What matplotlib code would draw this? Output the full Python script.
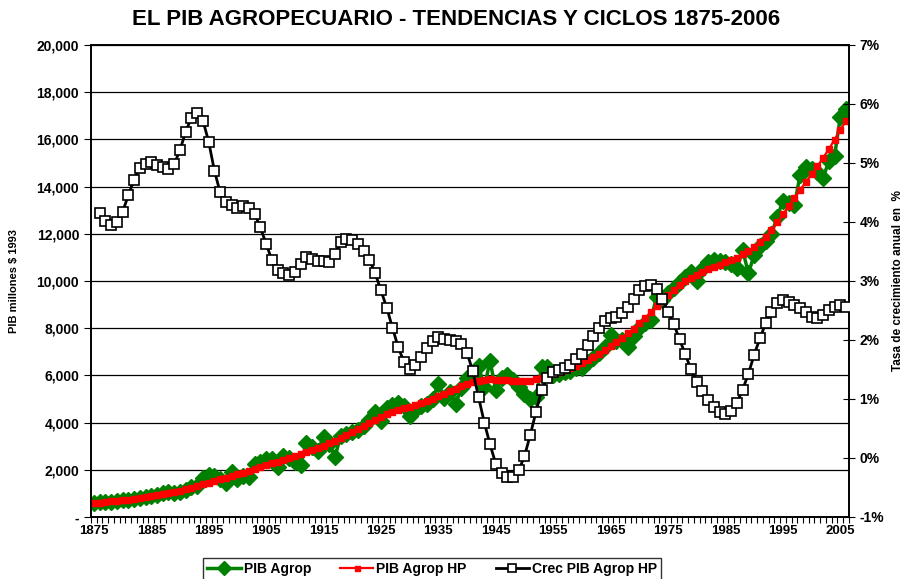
import matplotlib
matplotlib.use('Agg')
import matplotlib.pyplot as plt
from matplotlib.ticker import FuncFormatter, MultipleLocator

plt.rcParams['font.family'] = ['Liberation Sans', 'DejaVu Sans']
plt.rcParams['font.weight'] = 'bold'

years = list(range(1875, 2007))

# PIB agropecuario (millones $ 1993)
pib_agrop = [
    600, 620, 640, 650, 690, 710, 740, 770, 820, 850,
    900, 950, 1000, 1050, 1000, 1050, 1150, 1250, 1300, 1650,
    1800, 1750, 1600, 1450, 1900, 1600, 1750, 1700, 2250, 2350,
    2450, 2450, 2100, 2600, 2500, 2350, 2200, 3150, 2950, 2800,
    3400, 3100, 2550, 3450, 3500, 3600, 3700, 3850, 4100, 4450,
    4050, 4600, 4750, 4850, 4700, 4300, 4550, 4700, 4800, 5000,
    5650, 5050, 5300, 4800, 5450, 5900, 6000, 6400, 5500, 6600,
    5400, 5900, 6000, 5800, 5500, 5200, 5000, 5100, 6350, 6350,
    6000, 6050, 6150, 6200, 6300, 6300, 6550, 6750, 6950, 7200,
    7700, 7450, 7500, 7200, 7650, 8000, 8200, 8350, 9330, 9200,
    9480, 9700, 9950, 10150, 10390, 10000, 10500, 10800, 10890, 10850,
    10800, 10700, 10540, 11300, 10330, 11100, 11500, 11700, 12000, 12700,
    13400, 13300, 13200, 14500, 14850, 14750, 14600, 14350, 15100, 15300,
    16950, 17270,
]

# Tendencia Hodrick-Prescott
pib_hp = [
    590, 612, 635, 657, 680, 706, 735, 767, 801, 838,
    878, 918, 960, 1005, 1053, 1105, 1165, 1230, 1302, 1377,
    1450, 1521, 1590, 1658, 1729, 1802, 1880, 1958, 2040, 2120,
    2197, 2271, 2343, 2416, 2491, 2570, 2653, 2744, 2836, 2931,
    3029, 3129, 3237, 3356, 3480, 3609, 3740, 3871, 4001, 4126,
    4244, 4352, 4448, 4531, 4605, 4675, 4749, 4830, 4920, 5018,
    5120, 5224, 5328, 5433, 5538, 5637, 5720, 5779, 5814, 5827,
    5821, 5807, 5788, 5770, 5758, 5760, 5782, 5827, 5880, 5960,
    6040, 6125, 6210, 6305, 6405, 6515, 6635, 6770, 6915, 7070,
    7235, 7405, 7585, 7775, 7980, 8200, 8435, 8680, 8925, 9170,
    9400, 9615, 9810, 9985, 10135, 10270, 10390, 10500, 10600, 10695,
    10790, 10885, 10995, 11130, 11270, 11440, 11640, 11870, 12160, 12480,
    12820, 13170, 13510, 13860, 14190, 14530, 14860, 15210, 15590, 15990,
    16400, 16790,
]

# Crecimiento anual de la tendencia HP (%), desde 1876
crec_years = list(range(1876, 2007))
crec_hp = [
    4.16, 4.02, 3.95, 4.00, 4.17, 4.45, 4.72, 4.92, 4.99, 5.01,
    4.96, 4.93, 4.90, 4.98, 5.22, 5.53, 5.77, 5.85, 5.72, 5.36,
    4.87, 4.50, 4.34, 4.28, 4.24, 4.27, 4.23, 4.14, 3.91, 3.63,
    3.36, 3.18, 3.13, 3.10, 3.15, 3.28, 3.41, 3.38, 3.34, 3.34,
    3.32, 3.45, 3.66, 3.71, 3.70, 3.63, 3.51, 3.36, 3.13, 2.84,
    2.55, 2.21, 1.88, 1.63, 1.51, 1.58, 1.71, 1.86, 1.99, 2.05,
    2.02, 2.00, 1.98, 1.94, 1.78, 1.47, 1.03, 0.60, 0.23, -0.10,
    -0.25, -0.32, -0.32, -0.21, 0.03, 0.39, 0.78, 1.16, 1.36, 1.46,
    1.49, 1.52, 1.58, 1.67, 1.77, 1.92, 2.07, 2.20, 2.32, 2.37,
    2.39, 2.46, 2.56, 2.70, 2.84, 2.92, 2.93, 2.86, 2.70, 2.48,
    2.27, 2.01, 1.76, 1.50, 1.29, 1.14, 0.99, 0.87, 0.78, 0.75,
    0.80, 0.94, 1.16, 1.43, 1.75, 2.03, 2.28, 2.48, 2.62, 2.67,
    2.64, 2.60, 2.55, 2.47, 2.39, 2.38, 2.42, 2.50, 2.56, 2.60,
    2.56,
]

fig = plt.figure(figsize=(9.06, 5.79), dpi=100)
ax = fig.add_axes([0.1004, 0.1071, 0.8366, 0.8152])
ax2 = ax.twinx()

green = '#008000'

# gridlines at left-axis ticks
ax.set_axisbelow(True)
ax.yaxis.grid(True, color='black', linewidth=0.9)

ax.plot(years, pib_agrop, color=green, linewidth=2.5, marker='D', markersize=8.5,
        markerfacecolor=green, markeredgecolor=green, label='PIB Agrop', zorder=3)
ax.plot(years, pib_hp, color='red', linewidth=1.6, marker='s', markersize=4.5,
        markerfacecolor='red', markeredgecolor='red', label='PIB Agrop HP', zorder=4)
ax2.plot(crec_years, [v / 100 for v in crec_hp], color='black', linewidth=2,
         marker='s', markersize=6.5, markerfacecolor='white', markeredgecolor='black',
         markeredgewidth=1.2, label='Crec PIB Agrop HP', zorder=5)

ax.set_xlim(1874.6, 2006.4)
ax.set_ylim(0, 20000)
ax2.set_ylim(-0.01, 0.07)

ax.yaxis.set_major_locator(MultipleLocator(2000))
ax.yaxis.set_major_formatter(FuncFormatter(lambda v, p: '-' if v == 0 else f'{int(v):,}'))
ax2.yaxis.set_major_locator(MultipleLocator(0.01))
ax2.yaxis.set_major_formatter(FuncFormatter(lambda v, p: f'{v * 100:.0f}%'))

ax.set_xticks(list(range(1875, 2006, 10)))
ax.set_xticks([y + 0.5 for y in range(1874, 2007)], minor=True)
ax.tick_params(axis='x', which='major', length=0, labelsize=9.5, pad=6)
ax.tick_params(axis='x', which='minor', length=4, width=0.8, direction='out')
ax.tick_params(axis='y', length=5, width=0.8, direction='out', labelsize=10)
ax2.tick_params(axis='y', length=8, width=0.8, direction='inout', labelsize=10)

for a in (ax, ax2):
    for s in a.spines.values():
        s.set_linewidth(1.2)

ax.set_ylabel('PIB millones $ 1993', fontsize=8, fontweight='bold')
ax.yaxis.set_label_coords(-0.095, 0.5)
ax2.set_ylabel('Tasa de crecimiento anual en  %', fontsize=8.5, fontweight='bold')
ax2.yaxis.set_label_coords(1.057, 0.5)

fig.suptitle('EL PIB AGROPECUARIO - TENDENCIAS Y CICLOS 1875-2006', fontsize=16,
             fontweight='bold', x=0.503, y=0.985)

h1, l1 = ax.get_legend_handles_labels()
h2, l2 = ax2.get_legend_handles_labels()
leg = fig.legend(h1 + h2, l1 + l2, loc='upper center', bbox_to_anchor=(0.477, 0.049),
                 ncol=3, fontsize=10, frameon=True, fancybox=False, edgecolor='black',
                 handlelength=2.4, handletextpad=0.2, columnspacing=2.1,
                 borderpad=0.3, markerscale=0.8)
leg.get_frame().set_linewidth(1.0)

fig.savefig('out.png', dpi=100)
